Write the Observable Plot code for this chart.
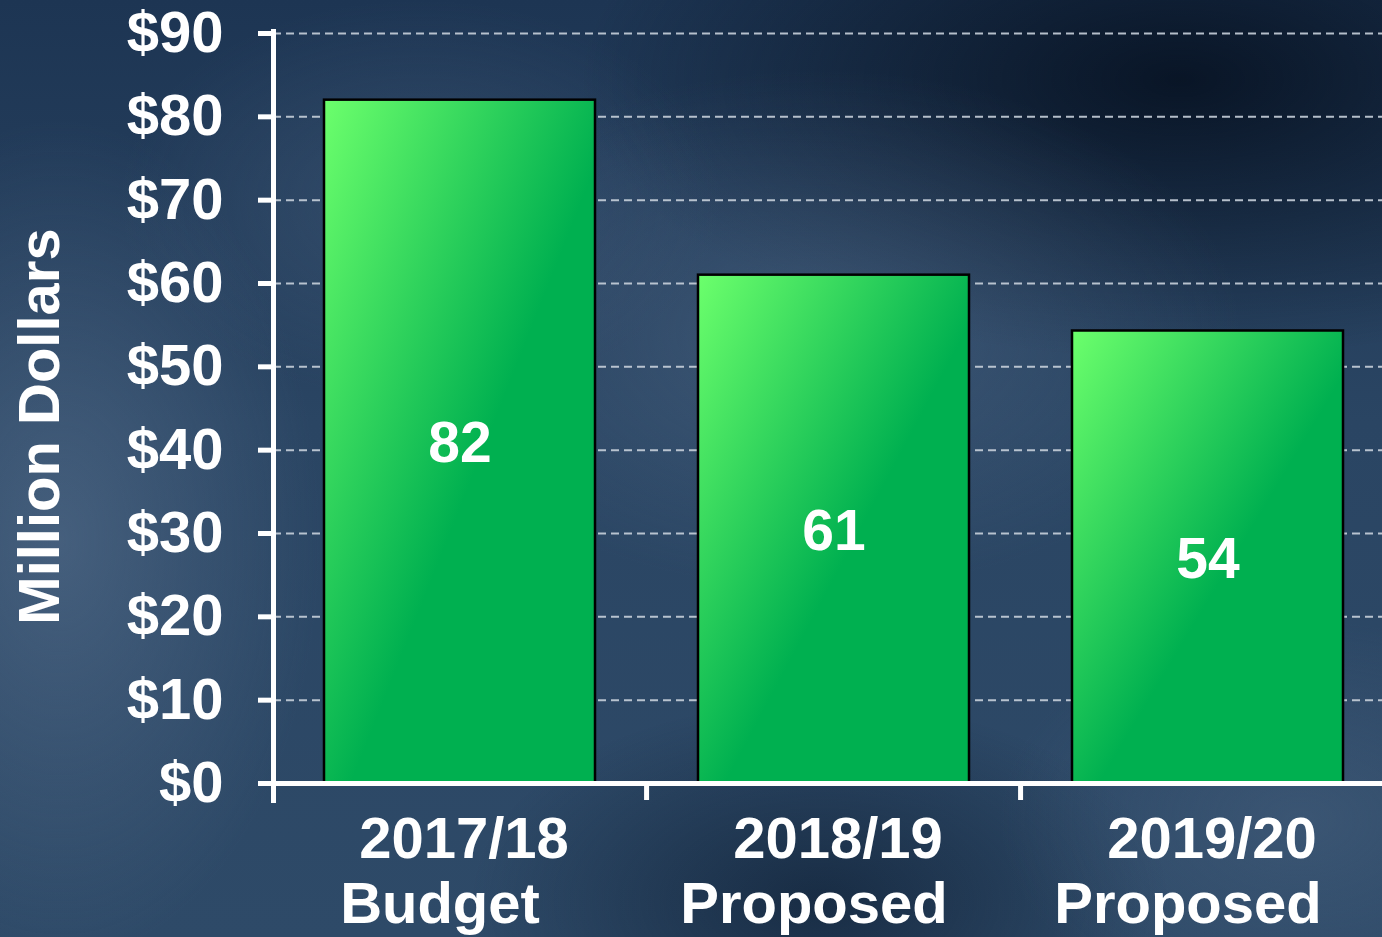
<!DOCTYPE html>
<html>
<head>
<meta charset="utf-8">
<script src="https://cdn.jsdelivr.net/npm/d3@7"></script>
<script src="https://cdn.jsdelivr.net/npm/@observablehq/plot@0.6"></script>
<style>
  html, body { margin: 0; padding: 0; width: 1382px; height: 937px; overflow: hidden; }
  body {
    background:
      radial-gradient(ellipse 260px 420px at 60px 540px, rgba(90,115,145,0.55), rgba(90,115,145,0) 100%),
      radial-gradient(ellipse 420px 260px at 820px 330px, rgba(85,110,140,0.45), rgba(85,110,140,0) 100%),
      radial-gradient(ellipse 300px 200px at 420px 200px, rgba(80,105,135,0.35), rgba(80,105,135,0) 100%),
      radial-gradient(ellipse 600px 280px at 1180px 80px, rgba(5,15,30,0.85), rgba(5,15,30,0) 100%),
      radial-gradient(ellipse 300px 200px at 1300px 820px, rgba(75,100,130,0.45), rgba(75,100,130,0) 100%),
      radial-gradient(ellipse 350px 200px at 820px 900px, rgba(10,25,45,0.6), rgba(10,25,45,0) 100%),
      linear-gradient(180deg, #1d3553 0%, #2a4563 45%, #2e4a68 100%);
    font-family: "Liberation Sans", Arial, sans-serif;
  }
  #chart { position: absolute; left: 0; top: 0; width: 1400px; }
  #chart svg { max-width: none !important; }
</style>
</head>
<body>
<div id="chart"></div>
<script>
const categories = ["2017/18 Budget", "2018/19 Proposed", "2019/20 Proposed"];
const labelLine1 = ["2017/18", "2018/19", "2019/20"];
const labelLine2 = ["Budget", "Proposed", "Proposed"];
const values = [82, 61, 54.3];
const valueLabels = ["82", "61", "54"];
const yTicks = [0, 10, 20, 30, 40, 50, 60, 70, 80, 90];

const data = categories.map((c, i) => ({
  cat: c, value: values[i], label: valueLabels[i], line1: labelLine1[i], line2: labelLine2[i]
}));

const W = 1400;
const font = "Liberation Sans, Arial, sans-serif";

function gradientBars(index, scales, values, dims, ctx, next) {
  const g = next(index, scales, values, dims, ctx);
  const ns = "http://www.w3.org/2000/svg";
  const defs = document.createElementNS(ns, "defs");
  const lg = document.createElementNS(ns, "linearGradient");
  lg.setAttribute("id", "barGrad");
  lg.setAttribute("x1", "0"); lg.setAttribute("y1", "0");
  lg.setAttribute("x2", "1"); lg.setAttribute("y2", "1");
  [["0", "#6cff6c"], ["0.55", "#00b050"], ["1", "#00b050"]].forEach(([o, c]) => {
    const s = document.createElementNS(ns, "stop");
    s.setAttribute("offset", o); s.setAttribute("stop-color", c);
    lg.appendChild(s);
  });
  defs.appendChild(lg);
  g.insertBefore(defs, g.firstChild);
  g.querySelectorAll("rect").forEach(r => r.setAttribute("fill", "url(#barGrad)"));
  return g;
}

function xBoundaryTicks(index, scales, values, dims) {
  const ns = "http://www.w3.org/2000/svg";
  const g = document.createElementNS(ns, "g");
  const xs = categories.map(c => scales.x(c));
  const step = xs[1] - xs[0];
  const bw = step * (1 - 0.275);
  const y0 = scales.y(0);
  for (let i = 0; i < xs.length - 1; i++) {
    const bx = (xs[i] + bw + xs[i + 1]) / 2;
    const l = document.createElementNS(ns, "line");
    l.setAttribute("x1", bx); l.setAttribute("x2", bx);
    l.setAttribute("y1", y0); l.setAttribute("y2", y0 + 17);
    l.setAttribute("stroke", "white"); l.setAttribute("stroke-width", 5);
    g.appendChild(l);
  }
  return g;
}

const plot = Plot.plot({
  width: W,
  height: 937,
  marginLeft: 273,
  marginRight: W - 1395,
  marginTop: 33,
  marginBottom: 154,
  style: { background: "transparent", fontFamily: font, overflow: "visible", maxWidth: "none" },
  x: { domain: categories, paddingInner: 0.275, paddingOuter: 0.1375, axis: null },
  y: { domain: [0, 90], axis: null },
  marks: [
    Plot.gridY(yTicks.filter(d => d > 0), {
      stroke: "#c8d0da", strokeOpacity: 0.9, strokeWidth: 2, strokeDasharray: "8,5"
    }),
    Plot.barY(data, {
      x: "cat", y: "value", fill: "#00b050", stroke: "#000", strokeWidth: 2.5,
      render: gradientBars
    }),
    Plot.text(data, {
      x: "cat", y: d => d.value / 2, text: "label", fill: "white",
      fontSize: 57, fontWeight: "bold", lineAnchor: "middle", dy: 2
    }),
    Plot.axisY(yTicks, {
      tickSize: 15, stroke: "white", strokeWidth: 5, strokeOpacity: 1,
      tickPadding: 35, tickFormat: d => "$" + d, fontSize: 58, fontWeight: "bold",
      fill: "white", color: "white", label: null, lineAnchor: "middle"
    }),
    Plot.ruleY([0], { stroke: "white", strokeWidth: 5 }),
    Plot.frame({ anchor: "left", stroke: "white", strokeWidth: 5, insetTop: -2, insetBottom: -17 }),
    xBoundaryTicks,
    Plot.text(data, {
      x: "cat", text: "line1", frameAnchor: "bottom", lineAnchor: "bottom",
      dy: 74, dx: 4, fill: "white", fontSize: 58, fontWeight: "bold"
    }),
    Plot.text(data, {
      x: "cat", text: "line2", frameAnchor: "bottom", lineAnchor: "bottom",
      dy: 139, dx: -20, fill: "white", fontSize: 58, fontWeight: "bold"
    }),
    Plot.text(["Million Dollars"], {
      text: d => d, frameAnchor: "left", rotate: -90, lineAnchor: "middle", textAnchor: "middle",
      dx: -233, dy: 18, fill: "white", fontSize: 58, fontWeight: "bold"
    })
  ]
});

document.getElementById("chart").appendChild(plot);
</script>
</body>
</html>
